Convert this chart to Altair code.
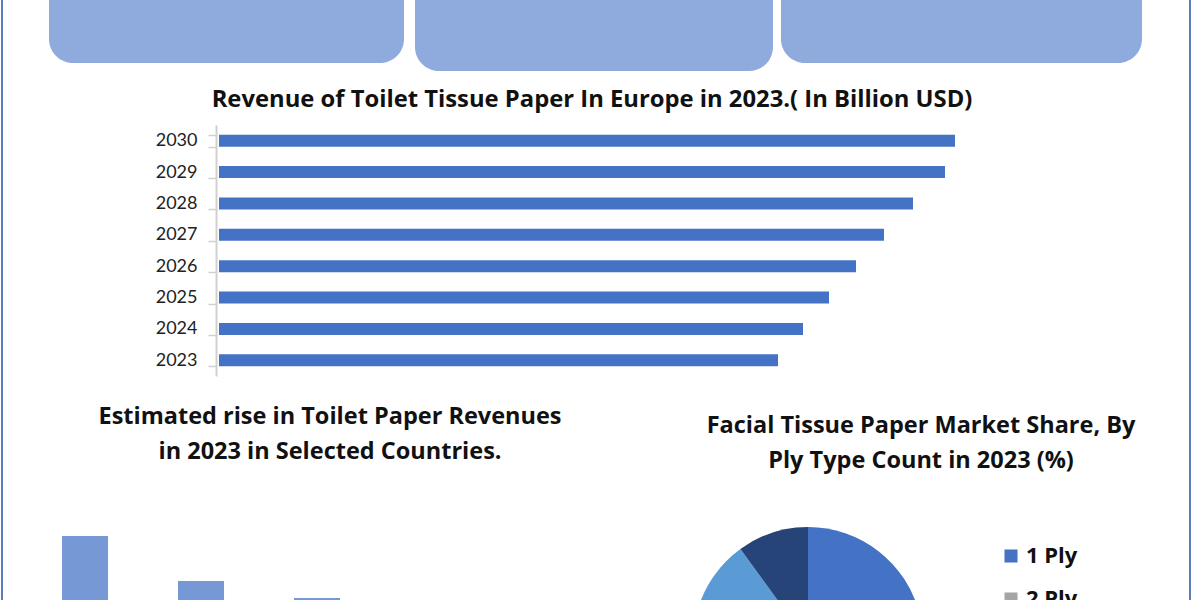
import altair as alt
import pandas as pd

# ---- data ----
years = ["2030", "2029", "2028", "2027", "2026", "2025", "2024", "2023"]
revenue = [14.72, 14.52, 13.88, 13.30, 12.74, 12.20, 11.68, 11.18]

countries = ["Country 1", "Country 2", "Country 3"]
rise = [8.2, 5.95, 5.1]

ply_types = ["1 Ply", "2 Ply", "3 Ply", "4 Ply"]
ply_share = [42, 28, 20, 10]
ply_colors = ["#4472C4", "#A5A5A5", "#5B9BD5", "#264478"]

title_top = "Revenue of Toilet Tissue Paper In Europe in 2023.( In Billion USD)"
title_left = ["Estimated rise in Toilet Paper Revenues", "in 2023 in Selected Countries."]
title_right = ["Facial Tissue Paper Market Share, By", "Ply Type Count in 2023 (%)"]

FONT = "Lato"
TFONT = "Open Sans"

df_rev = pd.DataFrame({"year": years, "revenue": revenue})
df_c = pd.DataFrame({"country": countries, "rise": rise})
df_p = pd.DataFrame({"ply": ply_types, "share": ply_share, "order": list(range(len(ply_types)))})
one = pd.DataFrame({"d": [0]})


def box(x1, x2, ybottom):
    return alt.Chart(one).mark_rect(color="#8FAADC", cornerRadius=24).encode(
        x=alt.value(x1), x2=alt.value(x2), y=alt.value(-40), y2=alt.value(ybottom)
    )


boxes = [box(49, 404, 63), box(415, 773, 71), box(781, 1142, 63)]

border = [
    alt.Chart(one).mark_rule(color="#5B7DB8", strokeWidth=2).encode(
        x=alt.value(xv), y=alt.value(0), y2=alt.value(600)
    )
    for xv in (2, 1190)
]

t_top = alt.Chart(one).mark_text(
    text=title_top, font=TFONT, fontSize=23.8, fontWeight="bold", color="#111111",
    align="center", baseline="middle"
).encode(x=alt.value(592), y=alt.value(100))

t_left = alt.Chart(one).mark_text(
    text=title_left, font=TFONT, fontSize=23.5, fontWeight="bold", color="#111111",
    align="center", baseline="middle", lineHeight=35
).encode(x=alt.value(330), y=alt.value(417))

t_right = alt.Chart(one).mark_text(
    text=title_right, font=TFONT, fontSize=23.5, fontWeight="bold", color="#111111",
    align="center", baseline="middle", lineHeight=35
).encode(x=alt.value(921), y=alt.value(426))

bars = alt.Chart(df_rev).mark_bar(color="#4472C4").encode(
    y=alt.Y(
        "year:N", sort=years,
        scale=alt.Scale(range=[125, 376], paddingInner=0.62, paddingOuter=0.31),
        axis=alt.Axis(
            orient="left", offset=-216, title=None, tickBand="extent",
            domainColor="#D0D0D0", domainWidth=2, tickColor="#D0D0D0", tickWidth=1.5,
            tickSize=8, labelFont=FONT, labelFontSize=18, labelColor="#222222",
            labelPadding=11, grid=False,
        ),
    ),
    x=alt.X("revenue:Q", scale=alt.Scale(domain=[0, 15], range=[219, 969]), axis=None),
)

bars2 = alt.Chart(df_c).mark_bar(color="#7698D4").encode(
    x=alt.X("country:N", sort=countries,
            scale=alt.Scale(range=[62, 340], paddingInner=0.603, paddingOuter=0), axis=None),
    y=alt.Y("rise:Q", scale=alt.Scale(domain=[0, 10], range=[700, 500]), axis=None),
)

pie = alt.Chart(df_p).mark_arc(outerRadius=115).encode(
    x=alt.value(808), y=alt.value(642),
    theta=alt.Theta("share:Q", stack=True),
    order=alt.Order("order:Q"),
    color=alt.Color(
        "ply:N", sort=ply_types,
        scale=alt.Scale(domain=ply_types, range=ply_colors),
        legend=alt.Legend(
            orient="none", legendX=1000, legendY=545, title=None,
            symbolType="square", symbolSize=170, symbolStrokeWidth=0,
            labelFont=TFONT, labelFontSize=22, labelFontWeight="bold",
            labelColor="#111111", rowPadding=21, labelOffset=4,
        ),
    ),
)

chart = alt.layer(
    *boxes, *border, t_top, bars, t_left, bars2, t_right, pie
).resolve_scale(
    x="independent", y="independent", color="independent", theta="independent"
).properties(
    width=1200, height=600, background="white",
    autosize=alt.AutoSizeParams(type="none"), padding=0,
).configure_view(stroke=None)

chart.save("out.html", embed_options={"renderer": "svg", "actions": False})
